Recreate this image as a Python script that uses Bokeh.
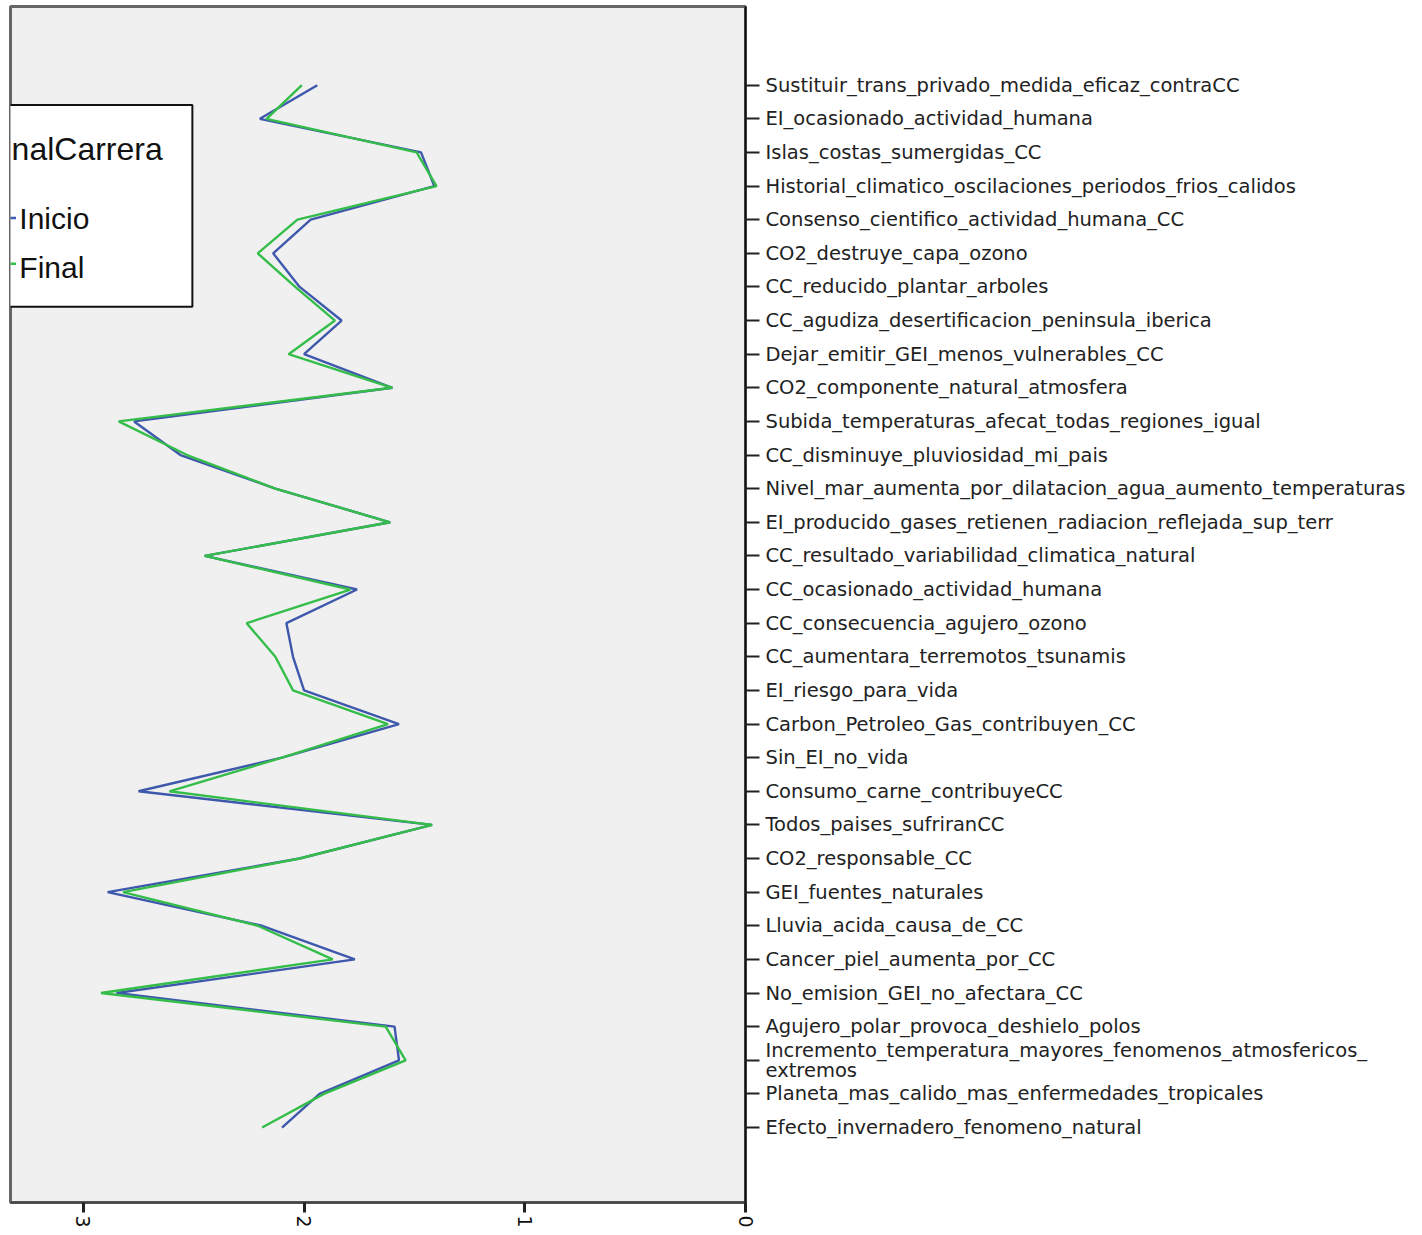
import math
from bokeh.plotting import figure
from bokeh.models import Range1d, FixedTicker, BoxAnnotation, Label
from bokeh.embed import file_html
from bokeh.resources import INLINE

categories = [
    "Sustituir_trans_privado_medida_eficaz_contraCC",
    "EI_ocasionado_actividad_humana",
    "Islas_costas_sumergidas_CC",
    "Historial_climatico_oscilaciones_periodos_frios_calidos",
    "Consenso_cientifico_actividad_humana_CC",
    "CO2_destruye_capa_ozono",
    "CC_reducido_plantar_arboles",
    "CC_agudiza_desertificacion_peninsula_iberica",
    "Dejar_emitir_GEI_menos_vulnerables_CC",
    "CO2_componente_natural_atmosfera",
    "Subida_temperaturas_afecat_todas_regiones_igual",
    "CC_disminuye_pluviosidad_mi_pais",
    "Nivel_mar_aumenta_por_dilatacion_agua_aumento_temperaturas",
    "EI_producido_gases_retienen_radiacion_reflejada_sup_terr",
    "CC_resultado_variabilidad_climatica_natural",
    "CC_ocasionado_actividad_humana",
    "CC_consecuencia_agujero_ozono",
    "CC_aumentara_terremotos_tsunamis",
    "EI_riesgo_para_vida",
    "Carbon_Petroleo_Gas_contribuyen_CC",
    "Sin_EI_no_vida",
    "Consumo_carne_contribuyeCC",
    "Todos_paises_sufriranCC",
    "CO2_responsable_CC",
    "GEI_fuentes_naturales",
    "Lluvia_acida_causa_de_CC",
    "Cancer_piel_aumenta_por_CC",
    "No_emision_GEI_no_afectara_CC",
    "Agujero_polar_provoca_deshielo_polos",
    "Incremento_temperatura_mayores_fenomenos_atmosfericos_\nextremos",
    "Planeta_mas_calido_mas_enfermedades_tropicales",
    "Efecto_invernadero_fenomeno_natural",
]

inicio = [1.94, 2.20, 1.47, 1.41, 1.97, 2.14, 2.02, 1.83, 2.00, 1.60,
          2.77, 2.56, 2.13, 1.61, 2.45, 1.76, 2.08, 2.05, 2.00, 1.57,
          2.10, 2.75, 1.42, 2.02, 2.89, 2.19, 1.77, 2.85, 1.59, 1.57,
          1.93, 2.10]

final = [2.01, 2.17, 1.49, 1.40, 2.03, 2.21, 2.04, 1.86, 2.07, 1.60,
         2.84, 2.53, 2.13, 1.61, 2.45, 1.79, 2.26, 2.13, 2.05, 1.62,
         2.10, 2.61, 1.42, 2.02, 2.82, 2.21, 1.87, 2.92, 1.63, 1.54,
         1.91, 2.19]

x_ticks = [0, 1, 2, 3]
legend_title = "nalCarrera"   # the part of the legend title visible in the original
series_names = ["Inicio", "Final"]
series_colors = ["#3e58ac", "#35bd4a"]

ypos = list(range(len(categories)))

p = figure(frame_width=735, frame_height=1196,
           x_range=Range1d(3.33, 0), y_range=Range1d(33.23, -2.34),
           output_backend="svg", toolbar_location=None,
           y_axis_location="right",
           min_border_left=10, min_border_top=6, min_border_right=0, min_border_bottom=0,
           background_fill_color="#f0f0f0", border_fill_color="white")

p.grid.visible = False
p.outline_line_color = "#666666"
p.outline_line_width = 3

# x axis
xa = p.xaxis[0]
xa.ticker = FixedTicker(ticks=x_ticks)
xa.major_label_orientation = -math.pi / 2
xa.major_label_text_font = "DejaVu Sans"
xa.major_label_text_font_size = "19px"
xa.major_label_text_color = "#111111"
xa.axis_line_color = "#444444"
xa.axis_line_width = 2
xa.major_tick_line_color = "#222222"
xa.major_tick_line_width = 3
xa.major_tick_out = 10
xa.major_tick_in = 0
xa.minor_tick_line_color = None
xa.major_label_standoff = 3

# y axis (right)
ya = p.yaxis[0]
ya.ticker = FixedTicker(ticks=ypos)
ya.major_label_overrides = {i: c for i, c in zip(ypos, categories)}
ya.major_label_text_font = "DejaVu Sans"
ya.major_label_text_font_size = "19.5px"
ya.major_label_text_line_height = 0.85
ya.major_label_text_color = "#222222"
ya.axis_line_color = "#111111"
ya.axis_line_width = 2
ya.major_tick_line_color = "#222222"
ya.major_tick_line_width = 2
ya.major_tick_out = 14
ya.major_tick_in = 0
ya.minor_tick_line_color = None
ya.major_label_standoff = 6

p.line(inicio, ypos, line_color=series_colors[0], line_width=2.4)
p.line(final, ypos, line_color=series_colors[1], line_width=2.4)

# legend box (cut at the left edge, as in the original)
lfont = "Liberation Sans"
p.add_layout(BoxAnnotation(left=3.7, right=2.506, top=0.59, bottom=6.59,
                           fill_color="white", fill_alpha=1.0,
                           line_color="#111111", line_alpha=1.0, line_width=2,
                           level="underlay"))
p.add_layout(Label(x=3.325, y=1.89, text=legend_title, text_align="left",
                   text_baseline="alphabetic", text_font=lfont,
                   text_font_size="32px", text_color="#111111"))
for name, col, ly, ty in zip(series_names, series_colors, [3.95, 5.31], [3.97, 5.43]):
    p.add_layout(BoxAnnotation(left=3.7, right=3.305, top=ly - 0.04, bottom=ly + 0.04,
                               fill_color=col, fill_alpha=1.0, line_color=None))
    p.add_layout(Label(x=3.29, y=ty, text=name, text_align="left",
                       text_baseline="alphabetic", text_font=lfont,
                       text_font_size="30px", text_color="#111111"))

open("out.html", "w").write(file_html(p, INLINE))
